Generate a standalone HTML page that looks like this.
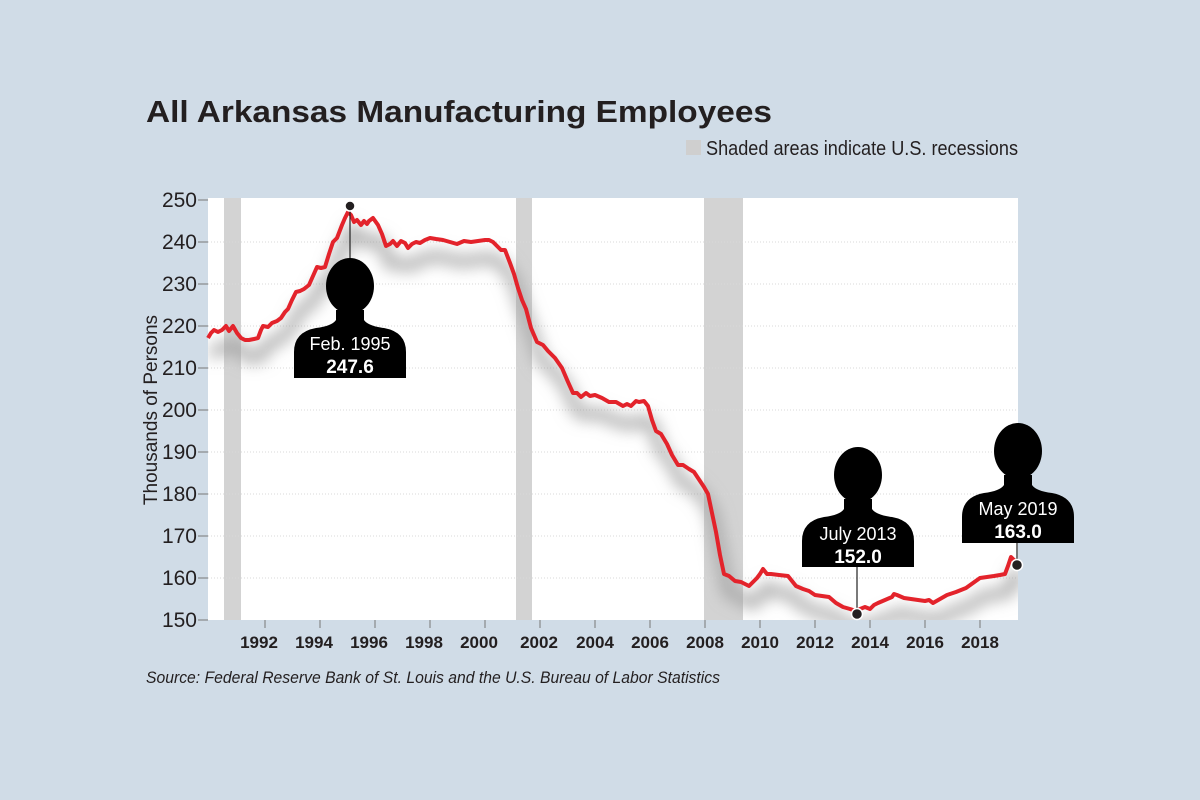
<!DOCTYPE html>
<html><head><meta charset="utf-8"><style>
html,body{margin:0;padding:0;background:#d0dce7;}
svg{display:block}
text{font-family:"Liberation Sans Narrow","Liberation Sans",sans-serif;}
</style></head><body>
<svg width="1200" height="800" viewBox="0 0 1200 800" xmlns="http://www.w3.org/2000/svg">
<defs>
<filter id="sh" x="-10%" y="-20%" width="120%" height="140%"><feGaussianBlur stdDeviation="8"/></filter>
<clipPath id="pc"><rect x="208" y="198" width="810" height="422"/></clipPath>
<g id="person">
<ellipse cx="0" cy="-92" rx="24" ry="28" fill="#000"/>
<path d="M-14,-68 L-14,-58 Q-18,-52 -34,-50 Q-56,-46 -56,-26 L-56,0 L56,0 L56,-26 Q56,-46 34,-50 Q18,-52 14,-58 L14,-68 Z" fill="#000"/>
</g>
</defs>
<rect width="1200" height="800" fill="#d0dce7"/>
<text x="146" y="122" font-weight="bold" font-size="31" fill="#231f20" textLength="626" lengthAdjust="spacingAndGlyphs" style="font-family:'Liberation Sans',sans-serif">All Arkansas Manufacturing Employees</text>
<rect x="686" y="140" width="15" height="15" fill="#cfcfcf"/>
<text x="706" y="155" font-size="20" fill="#231f20" textLength="312" lengthAdjust="spacingAndGlyphs">Shaded areas indicate U.S. recessions</text>
<rect x="208" y="198" width="810" height="422" fill="#fff"/>
<g fill="#d3d3d3">
<rect x="224" y="198" width="17" height="422"/>
<rect x="516" y="198" width="16" height="422"/>
<rect x="704" y="198" width="39" height="422"/>
</g>
<g stroke="#d8d8d8" stroke-dasharray="1,2" stroke-width="1">
<line x1="208" x2="1018" y1="242" y2="242"/><line x1="208" x2="1018" y1="284" y2="284"/>
<line x1="208" x2="1018" y1="326" y2="326"/><line x1="208" x2="1018" y1="368" y2="368"/>
<line x1="208" x2="1018" y1="410" y2="410"/><line x1="208" x2="1018" y1="452" y2="452"/>
<line x1="208" x2="1018" y1="494" y2="494"/><line x1="208" x2="1018" y1="536" y2="536"/>
<line x1="208" x2="1018" y1="578" y2="578"/>
</g>
<g stroke="#777" stroke-width="1">
<line x1="198" x2="208" y1="200" y2="200"/><line x1="198" x2="208" y1="242" y2="242"/><line x1="198" x2="208" y1="284" y2="284"/><line x1="198" x2="208" y1="326" y2="326"/><line x1="198" x2="208" y1="368" y2="368"/><line x1="198" x2="208" y1="410" y2="410"/><line x1="198" x2="208" y1="452" y2="452"/><line x1="198" x2="208" y1="494" y2="494"/><line x1="198" x2="208" y1="536" y2="536"/><line x1="198" x2="208" y1="578" y2="578"/><line x1="198" x2="208" y1="620" y2="620"/>
<line x1="265" x2="265" y1="620" y2="628"/><line x1="320" x2="320" y1="620" y2="628"/><line x1="375" x2="375" y1="620" y2="628"/><line x1="430" x2="430" y1="620" y2="628"/><line x1="485" x2="485" y1="620" y2="628"/><line x1="540" x2="540" y1="620" y2="628"/><line x1="595" x2="595" y1="620" y2="628"/><line x1="650" x2="650" y1="620" y2="628"/><line x1="705" x2="705" y1="620" y2="628"/><line x1="760" x2="760" y1="620" y2="628"/><line x1="815" x2="815" y1="620" y2="628"/><line x1="870" x2="870" y1="620" y2="628"/><line x1="925" x2="925" y1="620" y2="628"/><line x1="980" x2="980" y1="620" y2="628"/>
</g>
<g font-size="21" fill="#231f20" text-anchor="end">
<text x="197" y="207">250</text><text x="197" y="249">240</text><text x="197" y="291">230</text><text x="197" y="333">220</text><text x="197" y="375">210</text><text x="197" y="417">200</text><text x="197" y="459">190</text><text x="197" y="501">180</text><text x="197" y="543">170</text><text x="197" y="585">160</text><text x="197" y="627">150</text>
</g>
<text transform="translate(157,410) rotate(-90)" text-anchor="middle" font-size="19" fill="#231f20">Thousands of Persons</text>
<g font-size="17" font-weight="bold" fill="#231f20" text-anchor="middle">
<text x="259" y="648">1992</text><text x="314" y="648">1994</text><text x="369" y="648">1996</text><text x="424" y="648">1998</text><text x="479" y="648">2000</text><text x="539" y="648">2002</text><text x="595" y="648">2004</text><text x="650" y="648">2006</text><text x="705" y="648">2008</text><text x="760" y="648">2010</text><text x="815" y="648">2012</text><text x="870" y="648">2014</text><text x="925" y="648">2016</text><text x="980" y="648">2018</text>
</g>
<text x="146" y="683" font-size="17" font-style="italic" fill="#231f20" textLength="574" lengthAdjust="spacingAndGlyphs">Source: Federal Reserve Bank of St. Louis and the U.S. Bureau of Labor Statistics</text>
<g clip-path="url(#pc)">
<polyline transform="translate(4,18)" filter="url(#sh)" fill="none" stroke="#9a9a9a" stroke-width="9" points="208,338 214,330 222,330 233,326 241,338 249,340 258,338 263,326 277,321 288,309 296,292 309,285 317,267 325,267 333,242 342,225 348,212 361,225 369,221 378,225 386,246 397,246 408,248 416,242 430,238 443,240 457,244 471,242 485,240 493,242 501,250 510,263 518,288 526,309 537,342 548,351 562,368 573,393 581,397 595,395 609,402 623,406 631,406 639,402 648,406 656,431 667,444 678,465 689,469 700,481 708,494 716,532 724,574 741,582 749,586 757,578 763,569 771,574 788,576 796,586 815,595 829,597 843,607 856,611 865,607 878,603 892,597 897,595 911,599 925,601 933,603 947,595 966,588 980,578 994,576 1005,574 1011,557 1018,563"/>
</g>
<polyline fill="none" stroke="#e3232b" stroke-width="4" stroke-linejoin="round" points="208,338 211,333 214,330 218,332 222,330 226,326 229,331 233,326 237,333 241,338 245,340 249,340 254,339 258,338 261,330 263,326 268,327 272,323 277,321 281,318 285,312 288,309 292,300 296,292 300,291 304,289 309,285 313,276 317,267 321,268 325,267 329,254 333,242 337,238 342,225 345,218 348,212 351,215 354,222 357,220 361,225 364,221 367,224 369,221 373,218 378,225 382,234 386,246 390,244 393,241 397,246 401,241 405,243 408,248 412,244 416,242 420,243 425,240 430,238 436,239 443,240 450,242 457,244 464,241 471,242 478,241 485,240 489,240 493,242 497,246 501,250 505,250 510,263 514,274 518,288 522,300 526,309 531,328 537,342 543,345 548,351 555,358 562,368 568,382 573,393 577,393 581,397 586,393 590,396 595,395 602,398 609,402 616,402 623,406 627,404 631,406 636,401 639,402 644,401 648,406 652,420 656,431 661,434 667,444 672,455 678,465 683,465 689,469 694,472 700,481 704,487 708,494 712,513 716,532 720,555 724,574 729,576 735,581 741,582 745,584 749,586 753,582 757,578 760,574 763,569 767,574 771,574 779,575 788,576 792,581 796,586 803,589 809,591 815,595 822,596 829,597 836,603 843,607 850,609 856,611 860,609 865,607 870,609 874,605 878,603 885,600 892,597 894,594 897,595 904,598 911,599 918,600 925,601 929,600 933,603 940,599 947,595 956,592 966,588 973,583 980,578 987,577 994,576 1000,575 1005,574 1008,566 1011,557 1014,560 1018,563"/>
<line x1="350" y1="206" x2="350" y2="270" stroke="#222" stroke-width="1.2"/>
<circle cx="350" cy="206" r="5" fill="#231f20" stroke="#fff" stroke-width="1.5"/>
<use href="#person" x="350" y="378"/>
<text x="350" y="350" text-anchor="middle" font-size="18" fill="#fff">Feb. 1995</text>
<text x="350" y="373" text-anchor="middle" font-size="19" font-weight="bold" fill="#fff" style="font-family:'Liberation Sans',sans-serif">247.6</text>
<line x1="857" y1="560" x2="857" y2="612" stroke="#222" stroke-width="1.2"/>
<use href="#person" x="858" y="567"/>
<circle cx="857" cy="614" r="5.5" fill="#231f20" stroke="#fff" stroke-width="1.5"/>
<text x="858" y="540" text-anchor="middle" font-size="18" fill="#fff">July 2013</text>
<text x="858" y="563" text-anchor="middle" font-size="19" font-weight="bold" fill="#fff" style="font-family:'Liberation Sans',sans-serif">152.0</text>
<line x1="1017" y1="540" x2="1017" y2="563" stroke="#222" stroke-width="1.2"/>
<use href="#person" x="1018" y="543"/>
<circle cx="1017" cy="565" r="5.5" fill="#231f20" stroke="#fff" stroke-width="1.5"/>
<text x="1018" y="515" text-anchor="middle" font-size="18" fill="#fff">May 2019</text>
<text x="1018" y="538" text-anchor="middle" font-size="19" font-weight="bold" fill="#fff" style="font-family:'Liberation Sans',sans-serif">163.0</text>
</svg>
</body></html>
